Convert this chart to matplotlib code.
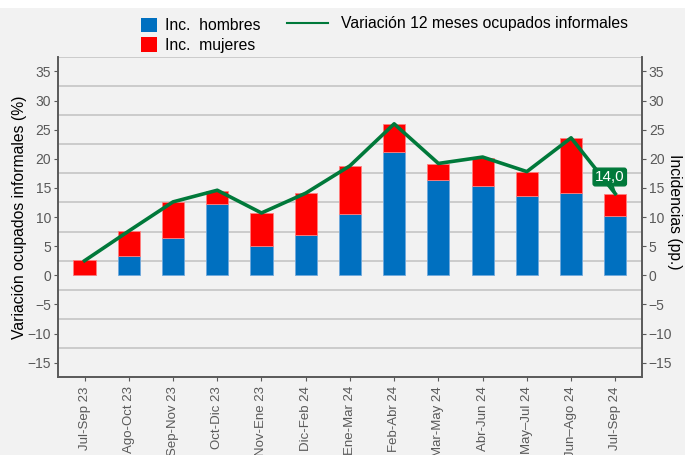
import numpy as np
import matplotlib.pyplot as plt
from matplotlib.patches import Patch, Rectangle
from matplotlib.lines import Line2D

plt.rcParams['font.family'] = ['Liberation Sans', 'DejaVu Sans']

periodos = ['Jul-Sep 23', 'Ago-Oct 23', 'Sep-Nov 23', 'Oct-Dic 23', 'Nov-Ene 23',
            'Dic-Feb 24', 'Ene-Mar 24', 'Feb-Abr 24', 'Mar-May 24', 'Abr-Jun 24',
            'May\u2013Jul 24', 'Jun\u2013Ago 24', 'Jul-Sep 24']
inc_hombres = [0.1, 3.3, 6.4, 12.2, 5.1, 7.0, 10.5, 21.1, 16.4, 15.4, 13.6, 14.2, 10.1]
inc_mujeres = [2.5, 4.3, 6.1, 2.3, 5.6, 7.1, 8.3, 4.8, 2.7, 4.8, 4.2, 9.3, 3.9]
variacion = [2.5, 7.6, 12.6, 14.6, 10.7, 14.1, 18.8, 26.0, 19.2, 20.3, 17.8, 23.6, 14.0]

azul = '#0070c0'
rojo = '#ff0000'
verde = '#00793a'
fondo = '#f2f2f2'
gris = '#595959'

fig = plt.figure(figsize=(6.85, 4.55), dpi=100, facecolor=fondo)
fig.patches.append(Rectangle((0, 0.982), 1, 0.018, transform=fig.transFigure,
                             facecolor='white', edgecolor='none', zorder=0))
ax = fig.add_axes([0.0847, 0.171, 0.8523, 0.704], facecolor=fondo)

x = np.arange(len(periodos))
ax.bar(x, inc_hombres, width=0.5, color=azul, edgecolor='#6fa8dc', linewidth=0.6, zorder=3)
ax.bar(x, inc_mujeres, width=0.5, bottom=inc_hombres, color=rojo, edgecolor='#ff8080',
       linewidth=0.6, zorder=3)
ax.plot(x, variacion, color=verde, linewidth=2.6, zorder=4)

# etiqueta del ultimo dato
ax.annotate('14,0', xy=(x[-1], variacion[-1]), xytext=(-4, 7), textcoords='offset points',
            ha='center', va='bottom', fontsize=11, color='white', zorder=6,
            bbox=dict(boxstyle='round,pad=0.12,rounding_size=0.15', fc=verde, ec=verde),
            arrowprops=dict(arrowstyle='-', color=verde, lw=1.5, shrinkA=0, shrinkB=0))

ax.set_xlim(-0.6, len(periodos) - 0.4)
ax.set_ylim(-17.5, 37.5)
ax.set_yticks(np.arange(-15, 36, 5))
for g in np.arange(-12.5, 38, 5):
    ax.axhline(g, color='#c8c8c8', linewidth=1.3, zorder=1)

ax.set_xticks(x)
ax.set_xticklabels(periodos, rotation=90, fontsize=9.5, color=gris)
ax.tick_params(axis='y', labelsize=10, labelcolor=gris, color=gris, length=3, pad=2)
ax.tick_params(axis='x', color=gris, length=3)

ax2 = ax.twinx()
ax2.set_ylim(-17.5, 37.5)
ax2.set_yticks(np.arange(-15, 36, 5))
ax2.tick_params(axis='y', labelsize=10, labelcolor=gris, color=gris, length=3, pad=2)

for a in (ax, ax2):
    a.spines['top'].set_visible(False)
    for s in ('left', 'right', 'bottom'):
        a.spines[s].set_color(gris)
        a.spines[s].set_linewidth(1.2)

# titulos de ejes
fig.text(0.029, 0.523, 'Variación ocupados informales (%)', fontsize=11.3,
         rotation=90, ha='center', va='center')
fig.text(0.985, 0.534, 'Incidencias (pp.)', fontsize=11.3,
         rotation=270, ha='center', va='center')

h_bar = [Patch(facecolor=azul, label='Inc.  hombres'), Patch(facecolor=rojo, label='Inc.  mujeres')]
fig.legend(handles=h_bar, loc='upper left', bbox_to_anchor=(0.197, 0.975), frameon=False,
           fontsize=11.3, handlelength=1.0, handleheight=1.05, handletextpad=0.5,
           labelspacing=0.25, borderaxespad=0)
h_lin = [Line2D([], [], color=verde, linewidth=1.5, label='Variación 12 meses ocupados informales')]
fig.legend(handles=h_lin, loc='upper left', bbox_to_anchor=(0.41, 0.978), frameon=False,
           fontsize=11.3, handlelength=2.6, handletextpad=0.85, borderaxespad=0)

fig.savefig('out.png', dpi=100, facecolor=fondo)
